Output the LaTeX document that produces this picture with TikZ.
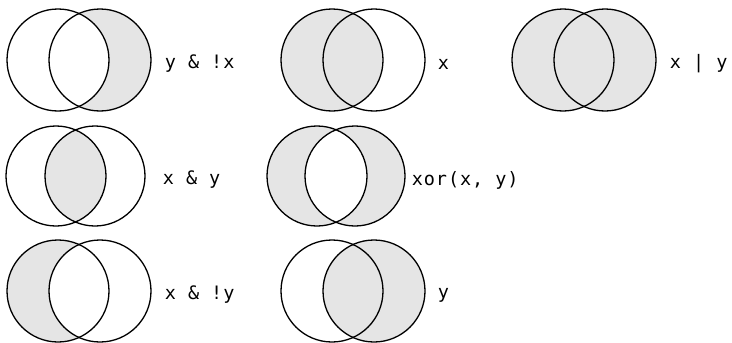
\documentclass[tikz,border=0pt]{standalone}
\usepackage{fontspec}
\newfontfamily\codefont[LetterSpace=5]{DejaVu Sans Mono}
\usetikzlibrary{positioning}
\definecolor{vennfill}{gray}{0.9}

\begin{document}
\begin{tikzpicture}[
  x=1pt, y=-1pt,
  ring/.style={draw, circle, line width=1.3pt, minimum size=102pt, inner sep=0pt},
  ringsm/.style={ring, minimum size=100pt},
  lbl/.style={font=\codefont\fontsize{18.5}{20}\selectfont, anchor=mid west, inner sep=0pt}
]
  \useasboundingbox (0,0) rectangle (732,343);

  % circle centres
  \coordinate (a1) at (58,60);   \coordinate (b1) at (100,60);
  \coordinate (a2) at (332,60);  \coordinate (b2) at (374,60);
  \coordinate (a3) at (563,60);  \coordinate (b3) at (605,60);
  \coordinate (a4) at (56,176);  \coordinate (b4) at (95,176);
  \coordinate (a5) at (317,176); \coordinate (b5) at (355,176);
  \coordinate (a6) at (58,291);  \coordinate (b6) at (100,291);
  \coordinate (a7) at (332,291); \coordinate (b7) at (374,291);

  % shading
  \fill[vennfill] (b1) circle[radius=51pt];
  \fill[white] (a1) circle[radius=51pt];
  \fill[vennfill] (a2) circle[radius=51pt];
  \fill[vennfill] (a3) circle[radius=51pt] (b3) circle[radius=51pt];
  \begin{scope}
    \clip (a4) circle[radius=50pt];
    \fill[vennfill] (b4) circle[radius=50pt];
  \end{scope}
  \fill[vennfill, even odd rule] (a5) circle[radius=50pt] (b5) circle[radius=50pt];
  \fill[vennfill] (a6) circle[radius=51pt];
  \fill[white] (b6) circle[radius=51pt];
  \fill[vennfill] (b7) circle[radius=51pt];

  % outlines
  \foreach \i in {1,2,3,6,7} {
    \node[ring] (x\i) at (a\i) {};
    \node[ring] (y\i) at (b\i) {};
  }
  \foreach \i in {4,5} {
    \node[ringsm] (x\i) at (a\i) {};
    \node[ringsm] (y\i) at (b\i) {};
  }

  % labels
  \node[lbl, right=13pt of y1.east, yshift=-4pt] (l1) {y \& !x};
  \node[lbl, right=12pt of y2.east, yshift=-4pt] (l2) {x};
  \node[lbl, right=13pt of y3.east, yshift=-4pt] (l3) {x | y};
  \node[lbl, right=17pt of y4.east, yshift=-4pt] (l4) {x \& y};
  \node[lbl, right=6pt of y5.east, yshift=-4pt] (l5) {xor(x, y)};
  \node[lbl, right=13pt of y6.east, yshift=-4pt] (l6) {x \& !y};
  \node[lbl, right=12pt of y7.east, yshift=-4pt] (l7) {y};
\end{tikzpicture}
\end{document}
